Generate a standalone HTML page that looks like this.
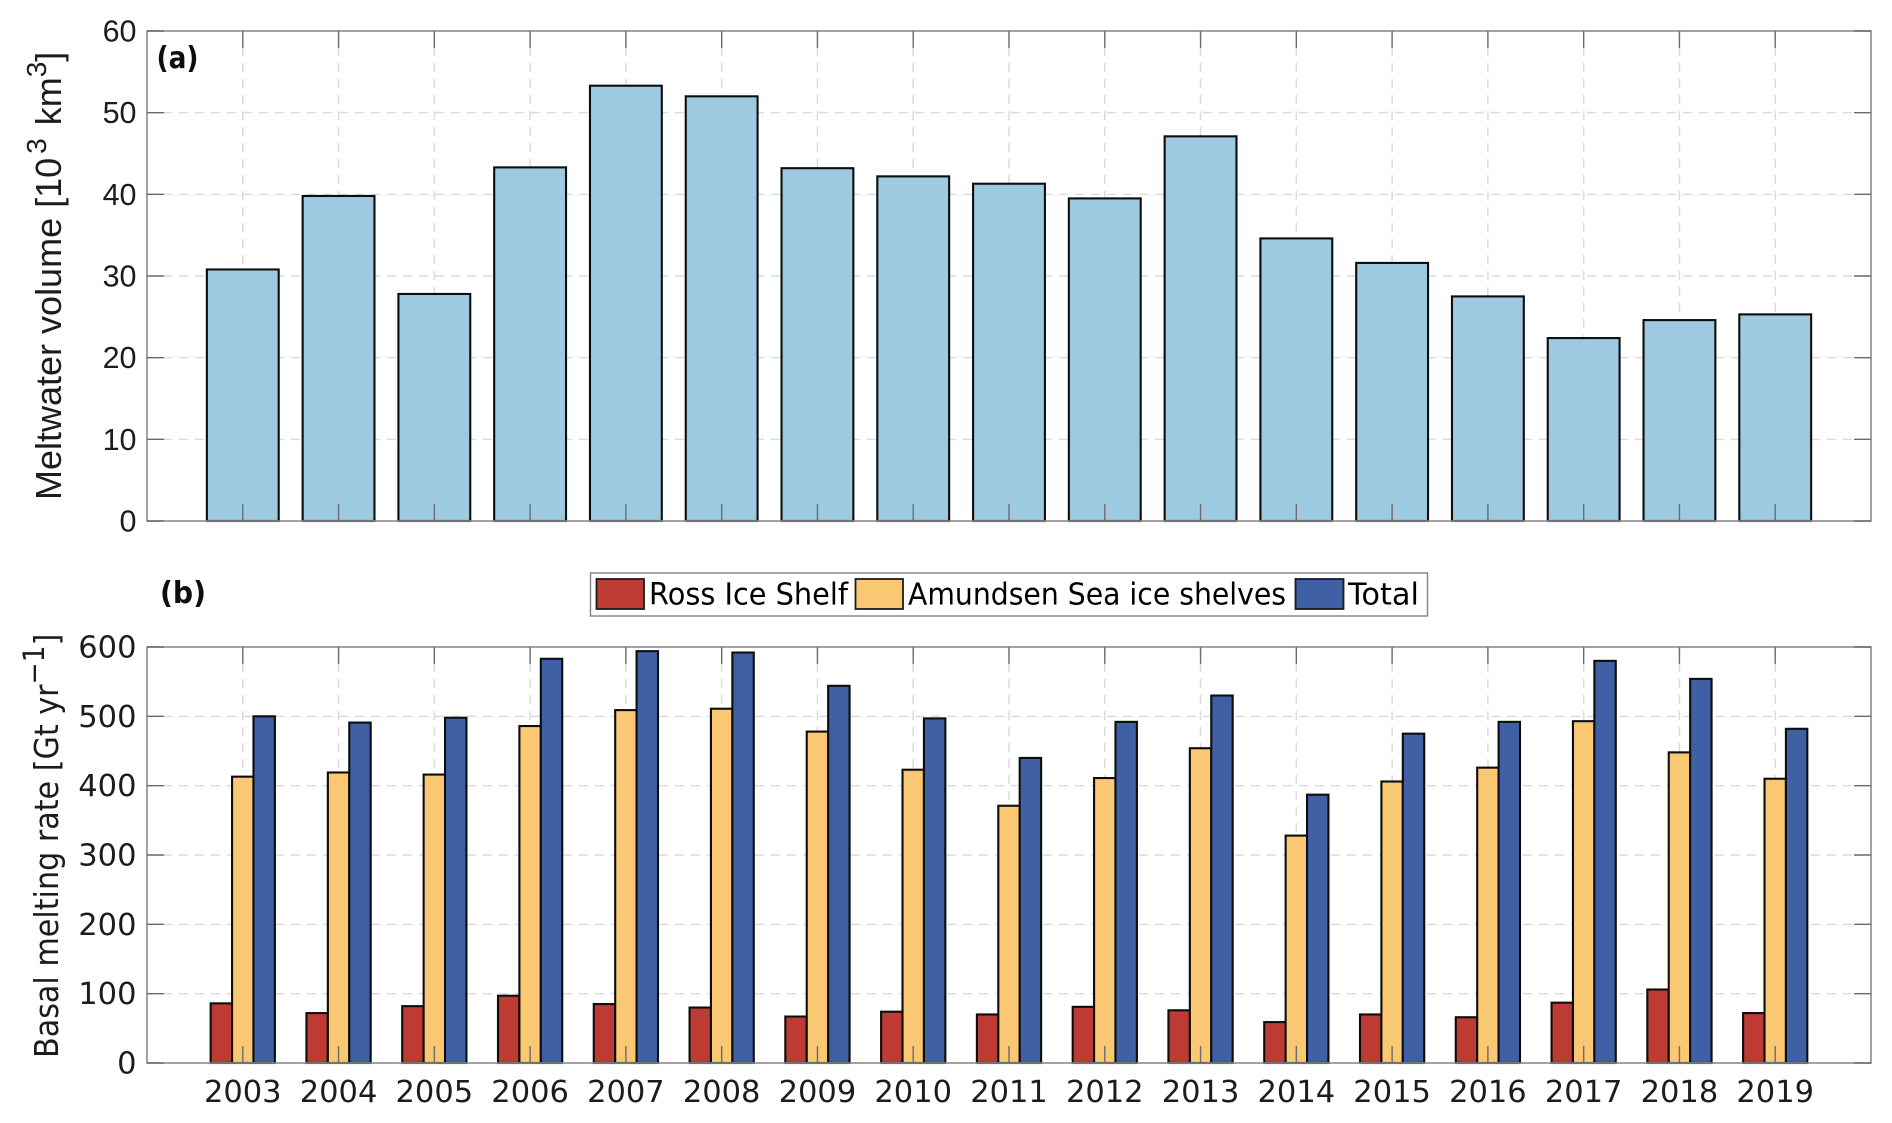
<!DOCTYPE html>
<html lang="en">
<head>
<meta charset="utf-8">
<title>Meltwater volume and basal melting rate</title>
<style>
html,body{margin:0;padding:0;background:#fff;width:1892px;height:1123px;overflow:hidden}
svg{display:block}
text{fill:#1e1e1e}
.hv{font-family:"Liberation Sans",sans-serif}
.dj{font-family:"DejaVu Sans",sans-serif}
</style>
</head>
<body>
<svg id="chart" xmlns="http://www.w3.org/2000/svg" width="1892" height="1123" viewBox="0 0 1892 1123">
<defs><filter id="soft" x="-2%" y="-2%" width="104%" height="104%"><feGaussianBlur stdDeviation="0.35"/></filter></defs>
<g id="root" filter="url(#soft)">
<rect id="frameA" fill="#fff"/>
<g id="gridA"></g>
<g id="barsA"></g>
<g id="axesA"></g>
<g id="gridB"></g>
<g id="barsB"></g>
<g id="axesB"></g>

<text class="dj" x="156.5" y="68" font-size="30" font-weight="700" style="fill:#111" textLength="42" lengthAdjust="spacingAndGlyphs">(a)</text>
<text class="dj" x="160" y="603" font-size="30" font-weight="700" style="fill:#111" textLength="46" lengthAdjust="spacingAndGlyphs">(b)</text>

<text class="hv" transform="translate(61,500) rotate(-90)" font-size="36" xml:space="preserve">Meltwater volume [10<tspan dy="-15" dx="4" font-size="28">3</tspan><tspan dy="15" dx="3"> km</tspan><tspan dy="-15" font-size="28">3</tspan><tspan dy="15">]</tspan></text>
<text class="dj" transform="translate(58,1058) rotate(-90) scale(0.915,1)" font-size="33">Basal melting rate [Gt yr<tspan dy="-14" font-size="29">−1</tspan><tspan dy="14">]</tspan></text>

<g>
<rect x="590.5" y="573" width="837" height="43" fill="#fff" stroke="#8a8a8a" stroke-width="1.5"/>
<rect x="596.5" y="579" width="47.5" height="30" fill="#bd3b30" stroke="#1a1a1a" stroke-width="1.8"/>
<text class="dj" x="649" y="604.5" font-size="30" textLength="199" lengthAdjust="spacingAndGlyphs" style="fill:#000">Ross Ice Shelf</text>
<rect x="855.5" y="579" width="47.5" height="30" fill="#fac773" stroke="#1a1a1a" stroke-width="1.8"/>
<text class="dj" x="908" y="604.5" font-size="30" textLength="378" lengthAdjust="spacingAndGlyphs" style="fill:#000">Amundsen Sea ice shelves</text>
<rect x="1295.5" y="579" width="48" height="30" fill="#3f60a5" stroke="#1a1a1a" stroke-width="1.8"/>
<text class="dj" x="1348" y="604.5" font-size="30" textLength="71" lengthAdjust="spacingAndGlyphs" style="fill:#000">Total</text>
</g>
</g>
</svg>
<script>
const years = [2003,2004,2005,2006,2007,2008,2009,2010,2011,2012,2013,2014,2015,2016,2017,2018,2019];
const meltwaterVolume = [30.8,39.8,27.8,43.3,53.3,52.0,43.2,42.2,41.3,39.5,47.1,34.6,31.6,27.5,22.4,24.6,25.3];
const rossIceShelf = [86,72,82,97,85,80,67,74,70,81,76,59,70,66,87,106,72];
const amundsenSea = [413,419,416,486,509,511,478,423,371,411,454,328,406,426,493,448,410];
const totalMelt = [500,491,498,583,594,592,544,497,440,492,530,387,475,492,580,554,482];
const ticksVolume = [0,10,20,30,40,50,60];
const ticksRate = [0,100,200,300,400,500,600];

const NS = 'http://www.w3.org/2000/svg';
const xMin = 2002, xMax = 2020;
const left = 147, right = 1871;
const panelA = {top: 31, bottom: 521, max: 60};
const panelB = {top: 647, bottom: 1063, max: 600};
const TICK = 17;
function xScale(year) { return left + (year - xMin) / (xMax - xMin) * (right - left); }
function yScale(panel, v) { return panel.bottom - v / panel.max * (panel.bottom - panel.top); }
function unitsToPx(u) { return u / (xMax - xMin) * (right - left); }

function make(tag, attrs, parent) {
  const el = document.createElementNS(NS, tag);
  for (const k in attrs) el.setAttribute(k, attrs[k]);
  parent.appendChild(el);
  return el;
}

function drawGrid(panel, ticks, group) {
  years.forEach(function (yr) {
    const el = make('line', {x1: xScale(yr), x2: xScale(yr), y1: panel.top, y2: panel.bottom, stroke: '#dcdcdc', 'stroke-width': 1.5, 'stroke-dasharray': '9 7'}, group);
    
    
  });
  ticks.forEach(function (t) {
    if (t === 0 || t === panel.max) return;
    const el = make('line', {x1: left, x2: right, y1: yScale(panel, t), y2: yScale(panel, t), stroke: '#dcdcdc', 'stroke-width': 1.5, 'stroke-dasharray': '9 7'}, group);
    
    
  });
}

function drawAxes(panel, ticks, group, fontClass, showYears) {
  const tickColor = '#6c6c6c';
  const box = make('rect', {x: left, y: panel.top, width: right - left, height: panel.bottom - panel.top, fill: 'none', stroke: '#8c8c8c', 'stroke-width': 1.6}, group);
  
  
  years.forEach(function (yr) {
    const x = xScale(yr);
    [[panel.bottom, panel.bottom - TICK], [panel.top, panel.top + TICK]].forEach(function (p) {
      const tk = make('line', {x1: x, x2: x, y1: p[0], y2: p[1], stroke: tickColor, 'stroke-width': 1.4}, group);
      
      
    });
    if (showYears) {
      const lb = make('text', {x: x, y: 1102, 'text-anchor': 'middle', 'font-size': 30.5, class: fontClass}, group);
      lb.textContent = yr;
      
      
    }
  });
  ticks.forEach(function (t) {
    const y = yScale(panel, t);
    [[left, left + TICK], [right, right - TICK]].forEach(function (p) {
      const tk = make('line', {x1: p[0], x2: p[1], y1: y, y2: y, stroke: tickColor, 'stroke-width': 1.4}, group);
      
      
    });
    const lb = make('text', {x: 136.5, y: y + 10.5, 'text-anchor': 'end', 'font-size': 30.5, class: fontClass}, group);
    lb.textContent = t;
    
    
  });
}

function drawBar(group, panel, cx, widthUnits, value, fill) {
  const w = unitsToPx(widthUnits);
  const y = yScale(panel, value);
  return make('rect', {x: cx - w / 2, y: y, width: w, height: panel.bottom - y, fill: fill, stroke: '#0c0c0c', 'stroke-width': 2.1}, group);
}

const gridA = document.getElementById('gridA');
const barsA = document.getElementById('barsA');
const axesA = document.getElementById('axesA');
const gridB = document.getElementById('gridB');
const barsB = document.getElementById('barsB');
const axesB = document.getElementById('axesB');
const frameA = document.getElementById('frameA');
frameA.setAttribute('x', left);
frameA.setAttribute('y', panelA.top);
frameA.setAttribute('width', right - left);
frameA.setAttribute('height', panelA.bottom - panelA.top);

drawGrid(panelA, ticksVolume, gridA);
drawGrid(panelB, ticksRate, gridB);

years.forEach(function (yr, i) {
  const bar = drawBar(barsA, panelA, xScale(yr), 0.75, meltwaterVolume[i], '#9ecae1');
  
  
  const gw = 0.2235;
  const ross = drawBar(barsB, panelB, xScale(yr - gw), gw, rossIceShelf[i], '#bd3b30');
  
  
  const amu = drawBar(barsB, panelB, xScale(yr), gw, amundsenSea[i], '#fac773');
  
  
  const tot = drawBar(barsB, panelB, xScale(yr + gw), gw, totalMelt[i], '#3f60a5');
  
  
});

drawAxes(panelA, ticksVolume, axesA, 'hv', false);
drawAxes(panelB, ticksRate, axesB, 'dj', true);
</script>
</body>
</html>
